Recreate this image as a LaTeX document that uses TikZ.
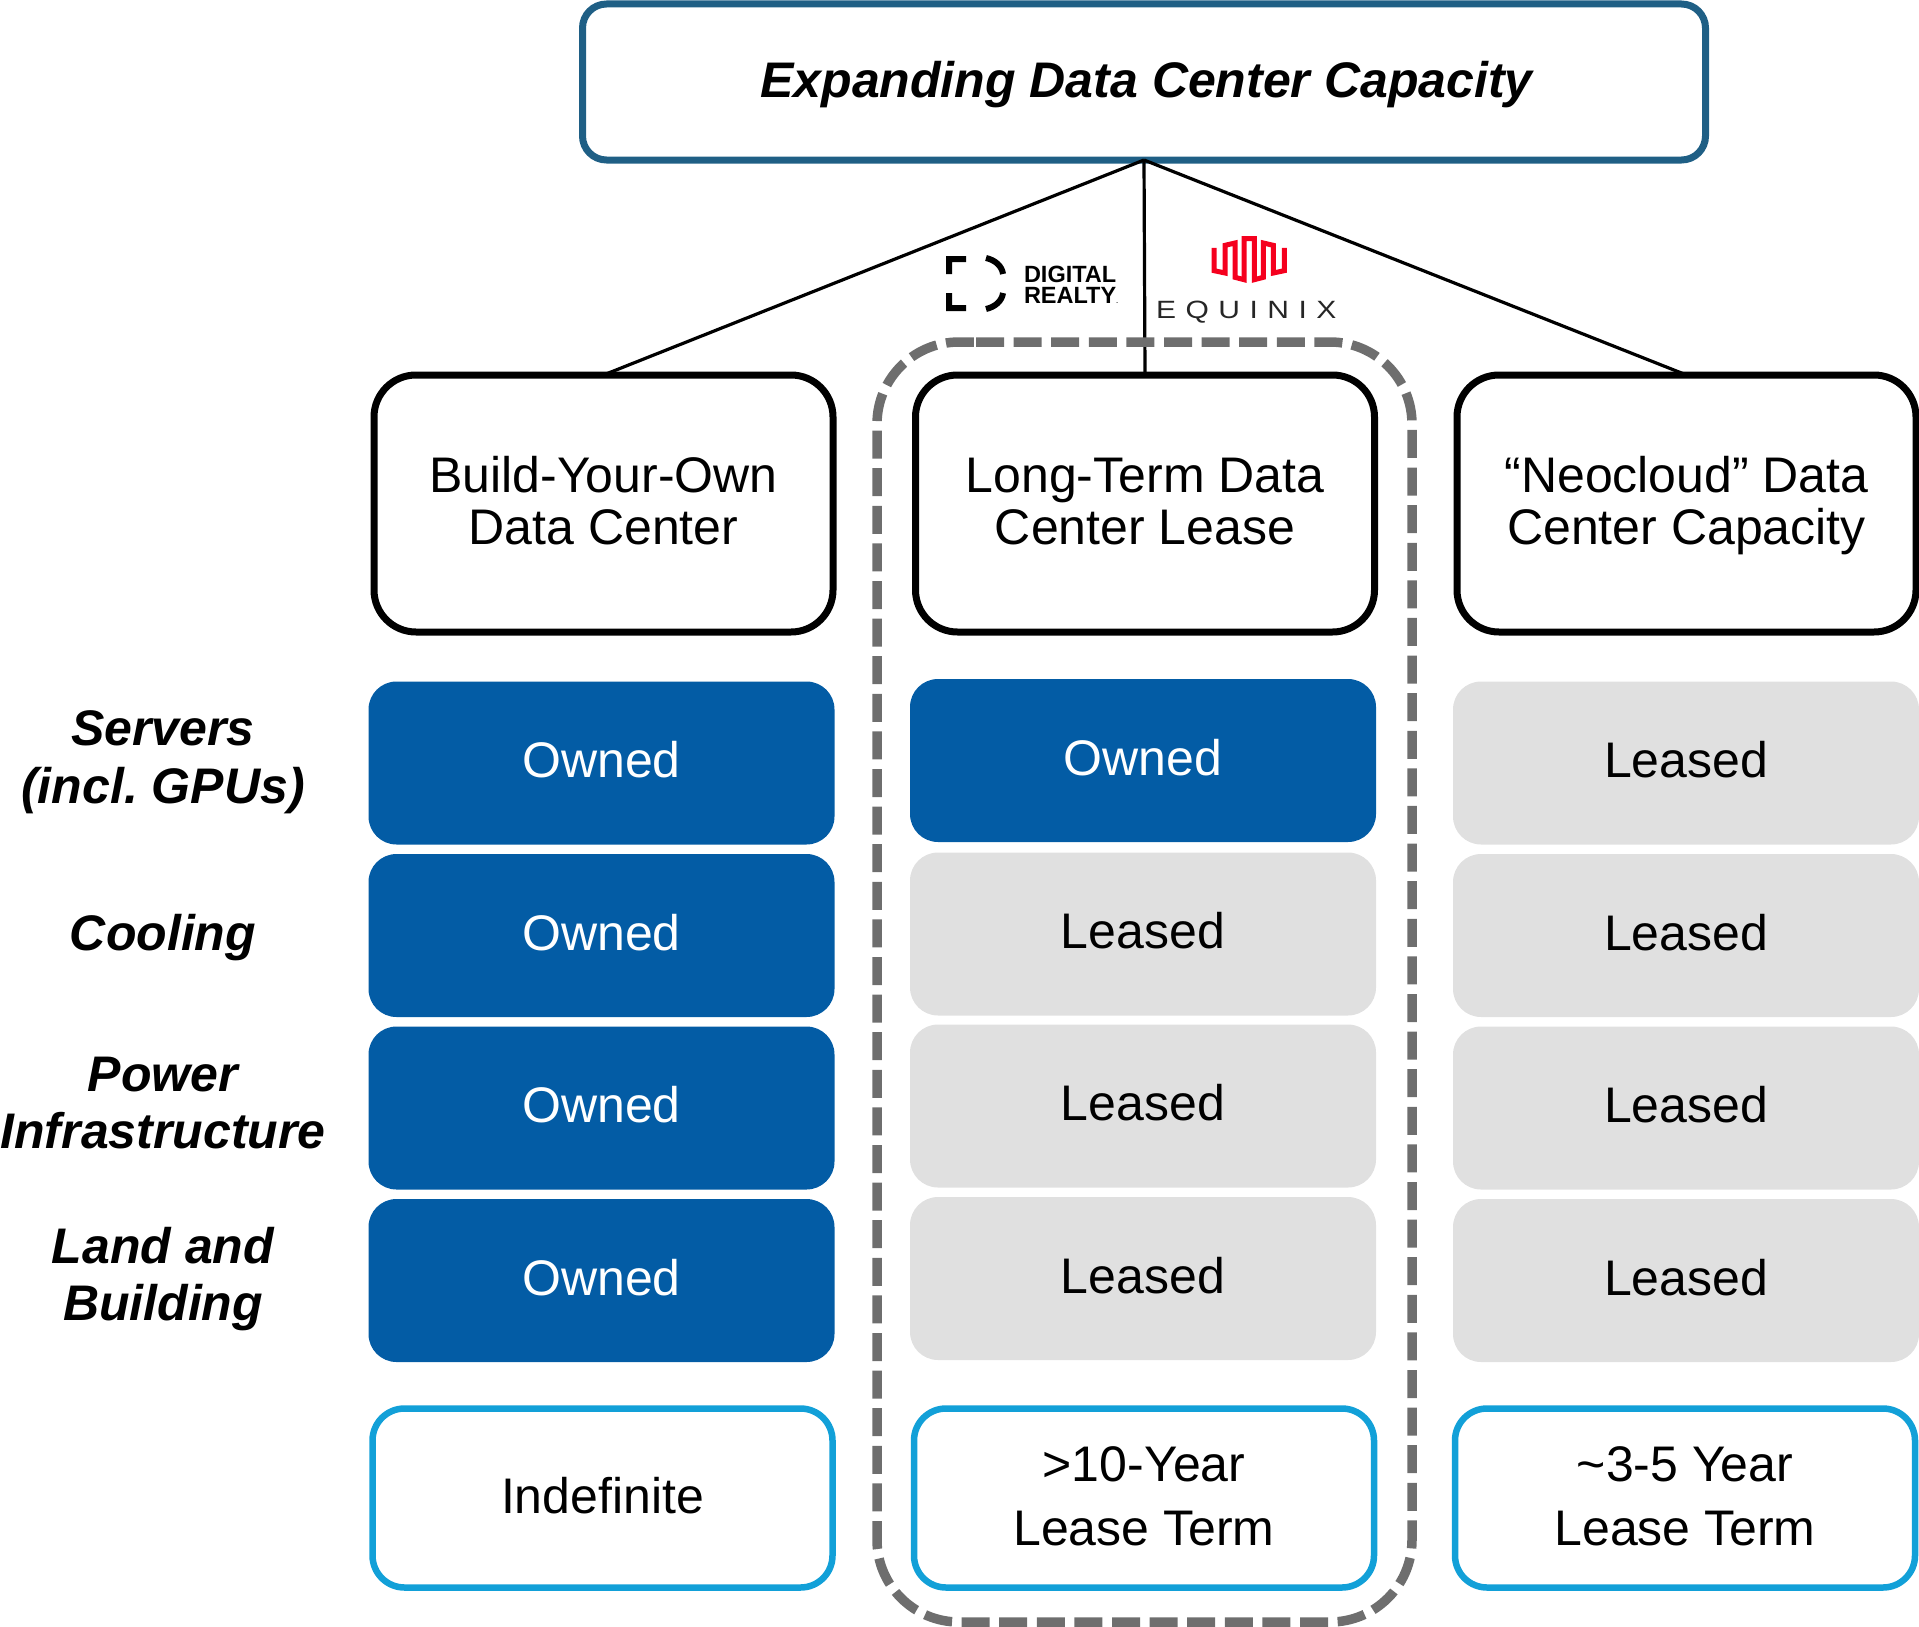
\documentclass[tikz,border=0pt]{standalone}
\usepackage{fontspec}
\setmainfont{Liberation Sans}
\newfontfamily\eqfont[LetterSpace=38,FakeStretch=1.2]{Liberation Sans}
\definecolor{topc}{HTML}{1F5F85}
\definecolor{ownc}{HTML}{035CA5}
\definecolor{leasec}{HTML}{E0E0E0}
\definecolor{termc}{HTML}{12A0D8}
\definecolor{groupc}{HTML}{6E6E6E}
\definecolor{eqred}{HTML}{F5001E}
\tikzset{
  x=1pt,y=-1pt,
  basebox/.style={rectangle,inner sep=0pt,outer sep=0pt,align=center,font=\fontsize{50}{52}\selectfont\frenchspacing},
  topbox/.style={basebox,draw=topc,line width=7pt,rounded corners=24pt,minimum width=1123pt,minimum height=156pt,text height=41pt,text depth=10.5pt,font=\fontsize{50}{52}\selectfont\bfseries\itshape},
  headbox/.style={basebox,draw=black,line width=7pt,rounded corners=42pt,minimum width=459pt,minimum height=257pt,text height=88pt,text depth=5.5pt},
  ownbox/.style={basebox,fill=ownc,text=white,rounded corners=28pt,minimum width=466pt,minimum height=163pt,text height=36pt,text depth=6.4pt},
  leasebox/.style={basebox,fill=leasec,text=black,rounded corners=28pt,minimum width=466pt,minimum height=163pt,text height=36pt,text depth=6.4pt},
  termbox/.style={basebox,draw=termc,line width=6.5pt,rounded corners=32pt,minimum width=460pt,minimum height=179pt,text height=36pt,text depth=5pt,font=\fontsize{50}{64}\selectfont},
  termtwo/.style={termbox,text height=100pt},
  sidelabel/.style={inner sep=0pt,outer sep=0pt,align=center,font=\fontsize{50}{57.5}\selectfont\bfseries\itshape\frenchspacing},
  conn/.style={draw=black,line width=3.2pt},
  groupline/.style={draw=groupc,line width=9.5pt,dash pattern=on 28pt off 9.6pt},
  drtext/.style={inner sep=0pt,outer sep=0pt,anchor=base west,font=\fontsize{23.5}{24}\selectfont\bfseries},
}
\begin{document}
\begin{tikzpicture}
\useasboundingbox (0,0) rectangle (1919,1627);
% header and top
\node[topbox] (top) at (1144,82) {\hspace*{5pt}Expanding Data Center Capacity};
\node[headbox] (h1) at (603.5,503.5) {Build-Your-Own\\Data Center};
\node[headbox] (h2) at (1145,503.5) {Long-Term Data\\Center Lease};
\node[headbox] (h3) at (1686.5,503.5) {“Neocloud” Data\\Center Capacity};
\draw[conn] (top.south) -- (h1.north);
\draw[conn] (top.south) -- (h2.north);
\draw[conn] (top.south) -- (h3.north);
% group outline
\draw[groupline,rounded corners=82pt] (976,342) -- (1412,342) -- (1412,1622) -- (877,1622) -- (877,342) -- (976,342);
% side labels
\node[sidelabel] (s1) at (163,762) {Servers\\(incl. GPUs)};
\node[sidelabel] (s2) at (163,938) {Cooling};
\node[sidelabel] (s3) at (163,1103) {Power\\Infrastructure};
\node[sidelabel] (s4) at (163,1279) {Land and\\Building};
% column 1
\node[ownbox] (a1) at (601.5,763) {Owned};
\node[ownbox] (a2) at (601.5,935.5) {Owned};
\node[ownbox] (a3) at (601.5,1108) {Owned};
\node[ownbox] (a4) at (601.5,1280.5) {Owned};
% column 2
\node[ownbox] (b1) at (1143,760.5) {Owned};
\node[leasebox] (b2) at (1143,934) {Leased};
\node[leasebox] (b3) at (1143,1106) {Leased};
\node[leasebox] (b4) at (1143,1278.5) {Leased};
% column 3
\node[leasebox] (c1) at (1686,763) {Leased};
\node[leasebox] (c2) at (1686,935.5) {Leased};
\node[leasebox] (c3) at (1686,1108) {Leased};
\node[leasebox] (c4) at (1686,1280.5) {Leased};
% terms
\node[termbox] (t1) at (602.5,1498) {Indefinite};
\node[termtwo] (t2) at (1144,1498) {>10-Year\\Lease Term};
\node[termtwo] (t3) at (1685,1498) {\textasciitilde 3-5 Year\\Lease Term};
% Digital Realty logo
\fill[black] (946,256) -- (966,256) -- (966,262) -- (952,262) -- (952,274) -- (946,274) -- cycle;
\fill[black] (946,293) -- (952,293) -- (952,305) -- (966,305) -- (966,311) -- (946,311) -- cycle;
\draw[black,line width=6pt] (986,258) .. controls (995,260) and (1002,266) .. (1003,274);
\draw[black,line width=6pt] (986,309) .. controls (995,307) and (1002,301) .. (1003,293);
\node[drtext] (dr1) at (1024,282) {DIGITAL};
\node[drtext] (dr2) at (1024,303) {REALTY{\fontsize{6}{6}\selectfont .}};
% Equinix logo
\begin{scope}[shift={(1200,228)},x=0.3333pt,y=-0.3333pt]
\draw[eqred,line width=5pt,miter limit=10] (42,60) -- (42,128) -- (75,135) -- (75,52) -- (105,45) -- (105,148) -- (132,155) -- (132,32) -- (163,32) -- (163,155) -- (190,148) -- (190,45) -- (220,52) -- (220,135) -- (253,128) -- (253,60);
\end{scope}
\node[inner sep=0pt,outer sep=0pt,anchor=base west,text=black!85,font=\fontsize{25}{26}\eqfont] (eq) at (1156,318) {EQUINIX};
\end{tikzpicture}
\end{document}
